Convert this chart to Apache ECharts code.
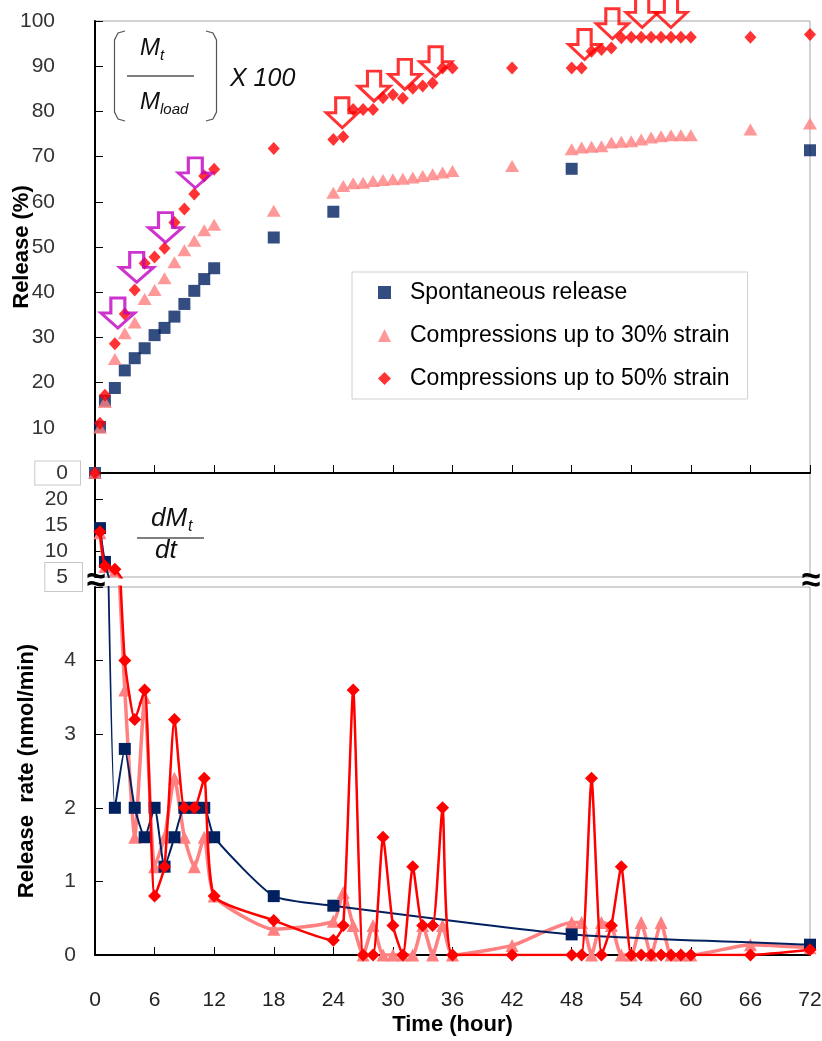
<!DOCTYPE html>
<html>
<head>
<meta charset="utf-8">
<title>Release</title>
<script src="https://cdn.jsdelivr.net/npm/echarts@6/dist/echarts.min.js"></script>
<style>
html, body { margin: 0; padding: 0; background: #fff; }
#chart { width: 822px; height: 1041px; }
</style>
</head>
<body>
<div id="chart"></div>
<script>
// cumulative release (%) - top panel
var spontHours   = [0, 0.5, 1, 2, 3, 4, 5, 6, 7, 8, 9, 10, 11, 12, 18, 24, 48, 72];
var releaseSpont = [0, 10.2, 16.0, 18.8, 22.7, 25.4, 27.6, 30.5, 32.1, 34.6, 37.4, 40.3, 42.9, 45.3, 52.1, 57.8, 67.3, 71.4];

var strainHours  = [0, 0.5, 1, 2, 3, 4, 5, 6, 7, 8, 9, 10, 11, 12, 18,
                    24, 25, 26, 27, 28, 29, 30, 31, 32, 33, 34, 35, 36, 42,
                    48, 49, 50, 51, 52, 53, 54, 55, 56, 57, 58, 59, 60, 66, 72];
var release30    = [0, 10.0, 15.7, 25.2, 30.9, 33.3, 38.5, 40.5, 43.1, 46.6, 49.3, 51.4, 53.7, 54.9, 58.0,
                    62.0, 63.5, 64.1, 64.2, 64.6, 64.8, 65.0, 65.1, 65.4, 65.7, 66.1, 66.5, 66.8, 67.9,
                    71.6, 72.0, 72.2, 72.3, 73.1, 73.3, 73.4, 73.8, 74.2, 74.5, 74.7, 74.7, 74.7, 76.0, 77.3];
var release50    = [0, 11.0, 17.2, 28.6, 35.2, 40.5, 46.4, 47.8, 49.7, 55.4, 58.4, 61.7, 65.7, 67.2, 71.8,
                    73.8, 74.4, 80.4, 80.4, 80.4, 83.0, 83.7, 82.9, 85.1, 85.6, 86.3, 89.6, 89.6, 89.6,
                    89.6, 89.6, 93.3, 93.7, 94.0, 96.3, 96.4, 96.4, 96.4, 96.4, 96.4, 96.4, 96.4, 96.4, 97.0];

// compression arrows (centre of each arrow)
var pushHours30  = [2.3, 4.2, 7.1, 10.1];
var pushLevel30  = [35.4, 45.5, 54.3, 66.4];
var pushHours50  = [24.9, 28.1, 31.2, 34.3, 49.3, 52.1, 55.1, 58.0];
var pushLevel50  = [79.7, 85.6, 88.2, 91.0, 94.8, 99.4, 101.9, 101.9];

// release rate (nmol/min) - bottom panel
var rateSpontHours = [0.5, 1, 2, 3, 4, 5, 6, 7, 8, 9, 10, 11, 12, 18, 24, 48, 72];
var rateSpont      = [14.4, 7.9, 2.0, 2.8, 2.0, 1.6, 2.0, 1.2, 1.6, 2.0, 2.0, 2.0, 1.6, 0.8, 0.67, 0.28, 0.14];

var rateStrainHours = [0.5, 1, 2, 3, 4, 5, 6, 7, 8, 9, 10, 11, 12, 18,
                       24, 25, 26, 27, 28, 29, 30, 31, 32, 33, 34, 35, 36, 42,
                       48, 49, 50, 51, 52, 53, 54, 55, 56, 57, 58, 59, 60, 66, 72];
var rate30 = [13.5, 7.0, 6.2, 3.6, 1.6, 3.5, 1.2, 1.6, 2.4, 1.6, 1.2, 1.6, 0.8, 0.35,
              0.46, 0.85, 0.4, 0, 0.4, 0, 0, 0, 0, 0.4, 0, 0.4, 0, 0.13,
              0.44, 0.44, 0, 0.44, 0.4, 0, 0, 0.44, 0, 0.44, 0, 0, 0, 0.14, 0.1];
var rate50 = [13.7, 7.1, 6.5, 4.0, 3.2, 3.6, 0.8, 1.2, 3.2, 2.0, 2.0, 2.4, 0.8, 0.47,
              0.2, 0.4, 3.6, 0, 0, 1.6, 0.4, 0, 1.2, 0.4, 0.4, 2.0, 0, 0,
              0, 0, 2.4, 0, 0.4, 1.2, 0, 0, 0, 0, 0, 0, 0, 0, 0.07];

var seriesNames = ['Spontaneous release', 'Compressions up to 30% strain', 'Compressions up to 50% strain'];

var FONT = '"Liberation Sans", Arial, sans-serif';
var NAVY = '#002060', PINK = '#ff8080', RED = '#ff0000', MAGENTA = '#c000c0';
var ARROW = 'path://M10,0L24,0L24,15L34,15L17,30L0,15L10,15Z';

function pairs(xs, ys) {
    return xs.map(function (x, i) { return [x, ys[i]]; });
}

function yTickAxis(grid, min, max, step, margin, fmt) {
    return {
        gridIndex: grid, type: 'value', min: min, max: max, interval: step,
        axisLine: { show: true, lineStyle: { color: '#000', width: 2 } },
        axisTick: { show: true, inside: true, length: 8, lineStyle: { color: '#000', width: 1 } },
        splitLine: { show: false },
        nameMoveOverlap: false,
        axisLabel: {
            margin: margin, color: '#333', fontFamily: FONT, fontSize: 21,
            formatter: fmt,
            rich: {
                n: { fontFamily: FONT, fontSize: 21, color: '#333' },
                box: { fontFamily: FONT, fontSize: 21, color: '#333', borderColor: '#c8c8c8', borderWidth: 1, backgroundColor: '#fff' }
            }
        }
    };
}

function rateLine(name, hours, values, grid, symbol, size, color, width, z) {
    return {
        type: 'line', name: name, xAxisIndex: grid, yAxisIndex: grid,
        data: pairs(hours, values),
        symbol: symbol, symbolSize: size, smooth: 0.18, clip: true, z: z,
        lineStyle: { color: color, width: width },
        itemStyle: { color: color }
    };
}

var nameStyle = { fontFamily: FONT, fontWeight: 'bold', fontSize: 22, color: '#000' };

var topY = yTickAxis(0, 0, 100, 10, 15, function (v) {
    return v === 0 ? '{box|0}' : '{n|' + v + '}';
});
topY.axisLabel.rich.n.padding = [0, 25, 0, 0];
topY.axisLabel.rich.box.padding = [1, 12, 1, 21];
topY.name = 'Release (%)';
topY.nameLocation = 'middle';
topY.nameGap = 62;
topY.nameTextStyle = nameStyle;

var upperY = yTickAxis(1, 5, 25, 5, 13, function (v) {
    if (v === 25) return '';
    return v === 5 ? '{box|5}' : '{n|' + v + '}';
});
upperY.axisLabel.rich.n.padding = [0, 14, 0, 0];
upperY.axisLabel.rich.box.padding = [4, 14, 3, 11];

var lowerY = yTickAxis(2, 0, 5, 1, 19, function (v) {
    return v === 5 ? '' : String(v);
});
lowerY.name = 'Release  rate (nmol/min)';
lowerY.nameLocation = 'middle';
lowerY.nameGap = 57;
lowerY.nameTextStyle = nameStyle;

var gridBox = { left: 95, right: 12, show: true, borderColor: '#a6a6a6', borderWidth: 1, outerBoundsMode: 'none' };

var option = {
    backgroundColor: '#fff',
    animation: false,
    grid: [
        Object.assign({ top: 21, height: 452 }, gridBox),
        Object.assign({ top: 473, height: 104 }, gridBox),
        Object.assign({ top: 587, height: 368 }, gridBox)
    ],
    xAxis: [
        {
            gridIndex: 0, type: 'value', min: 0, max: 72, interval: 6,
            axisLine: { onZero: false, lineStyle: { color: '#000', width: 2 } },
            axisTick: { inside: true, length: 8, lineStyle: { color: '#000', width: 1 } },
            axisLabel: { show: false },
            splitLine: { show: false }
        },
        { gridIndex: 1, type: 'value', min: 0, max: 72, show: false },
        {
            gridIndex: 2, type: 'value', min: 0, max: 72, interval: 6,
            axisLine: { onZero: false, lineStyle: { color: '#000', width: 2 } },
            axisTick: { inside: true, length: 8, lineStyle: { color: '#000', width: 1 } },
            axisLabel: { margin: 35, color: '#222', fontFamily: FONT, fontSize: 21 },
            splitLine: { show: false },
            name: 'Time (hour)', nameLocation: 'middle', nameGap: 59, nameMoveOverlap: false,
            nameTextStyle: nameStyle
        }
    ],
    yAxis: [topY, upperY, lowerY],
    legend: {
        data: [
            { name: seriesNames[0], icon: 'rect' },
            { name: seriesNames[1], icon: 'triangle' },
            { name: seriesNames[2], icon: 'diamond' }
        ],
        orient: 'vertical', left: 352, top: 272,
        padding: [9, 18, 9, 26], itemGap: 20, itemWidth: 13, itemHeight: 13,
        backgroundColor: '#fff', borderColor: '#d0d0d0', borderWidth: 1,
        selectedMode: false,
        textStyle: { fontFamily: FONT, fontSize: 23, color: '#000', padding: [0, 0, 0, 14] }
    },
    series: [
        {
            type: 'scatter', name: seriesNames[0], xAxisIndex: 0, yAxisIndex: 0,
            data: pairs(spontHours, releaseSpont), symbol: 'rect', symbolSize: 12,
            itemStyle: { color: NAVY }, z: 3
        },
        {
            type: 'scatter', name: seriesNames[1], xAxisIndex: 0, yAxisIndex: 0,
            data: pairs(strainHours, release30), symbol: 'triangle', symbolSize: [14, 12],
            itemStyle: { color: PINK }, z: 4
        },
        {
            type: 'scatter', name: seriesNames[2], xAxisIndex: 0, yAxisIndex: 0,
            data: pairs(strainHours, release50), symbol: 'diamond', symbolSize: [12, 13],
            itemStyle: { color: RED }, z: 5
        },
        {
            type: 'scatter', name: 'push30', xAxisIndex: 0, yAxisIndex: 0, clip: false, silent: true,
            data: pairs(pushHours30, pushLevel30), symbol: ARROW, symbolSize: [34, 30],
            itemStyle: { color: 'rgba(255,255,255,0)', borderColor: MAGENTA, borderWidth: 3 }, z: 6
        },
        {
            type: 'scatter', name: 'push50', xAxisIndex: 0, yAxisIndex: 0, clip: false, silent: true,
            data: pairs(pushHours50, pushLevel50), symbol: ARROW, symbolSize: [32, 30],
            itemStyle: { color: 'rgba(255,255,255,0)', borderColor: RED, borderWidth: 3 }, z: 6
        },
        // bottom panel, drawn twice: upper (5-25) and lower (0-5) part of the broken axis
        rateLine('rate30 hi', rateStrainHours, rate30, 1, 'triangle', 13, PINK, 3.5, 3),
        rateLine('spont hi', rateSpontHours, rateSpont, 1, 'rect', 12, NAVY, 2, 4),
        rateLine('rate50 hi', rateStrainHours, rate50, 1, 'diamond', 13, RED, 2.5, 5),
        rateLine('rate30 lo', rateStrainHours, rate30, 2, 'triangle', 13, PINK, 3.5, 3),
        rateLine('spont lo', rateSpontHours, rateSpont, 2, 'rect', 12, NAVY, 2, 4),
        rateLine('rate50 lo', rateStrainHours, rate50, 2, 'diamond', 13, RED, 2.5, 5)
    ],
    graphic: [
        // (Mt / Mload) X 100
        { type: 'polyline', z: 10, shape: { points: [[125, 31], [118, 33], [114.5, 40], [114.5, 112], [118, 119], [125, 121]] },
          style: { stroke: '#555', lineWidth: 1.2, fill: null } },
        { type: 'polyline', z: 10, shape: { points: [[206, 31], [213, 33], [216.5, 40], [216.5, 112], [213, 119], [206, 121]] },
          style: { stroke: '#555', lineWidth: 1.2, fill: null } },
        { type: 'text', z: 10, x: 140, y: 48, style: { text: 'M', font: 'italic 24px ' + FONT, fill: '#111', textVerticalAlign: 'middle' } },
        { type: 'text', z: 10, x: 160, y: 56, style: { text: 't', font: 'italic 15px ' + FONT, fill: '#111', textVerticalAlign: 'middle' } },
        { type: 'line', z: 10, shape: { x1: 127, y1: 76, x2: 194, y2: 76 }, style: { stroke: '#555', lineWidth: 1.5 } },
        { type: 'text', z: 10, x: 140, y: 102, style: { text: 'M', font: 'italic 24px ' + FONT, fill: '#111', textVerticalAlign: 'middle' } },
        { type: 'text', z: 10, x: 160, y: 110, style: { text: 'load', font: 'italic 15px ' + FONT, fill: '#111', textVerticalAlign: 'middle' } },
        { type: 'text', z: 10, x: 230, y: 79, style: { text: 'X 100', font: 'italic 25px ' + FONT, fill: '#111', textVerticalAlign: 'middle' } },
        // dMt / dt
        { type: 'text', z: 10, x: 151, y: 519, style: { text: 'dM', font: 'italic 26px ' + FONT, fill: '#111', textVerticalAlign: 'middle' } },
        { type: 'text', z: 10, x: 188, y: 527, style: { text: 't', font: 'italic 16px ' + FONT, fill: '#111', textVerticalAlign: 'middle' } },
        { type: 'line', z: 10, shape: { x1: 137, y1: 538, x2: 204, y2: 538 }, style: { stroke: '#555', lineWidth: 1.5 } },
        { type: 'text', z: 10, x: 155, y: 551, style: { text: 'dt', font: 'italic 26px ' + FONT, fill: '#111', textVerticalAlign: 'middle' } },
        // axis break marks
        { type: 'text', z: 100, x: 96, y: 582, style: { text: '\u2248', font: 'bold 34px ' + FONT, fill: '#000', textAlign: 'center', textVerticalAlign: 'middle' } },
        { type: 'text', z: 100, x: 811, y: 582, style: { text: '\u2248', font: 'bold 34px ' + FONT, fill: '#000', textAlign: 'center', textVerticalAlign: 'middle' } }
    ]
};

echarts.init(document.getElementById('chart')).setOption(option);
</script>
</body>
</html>
